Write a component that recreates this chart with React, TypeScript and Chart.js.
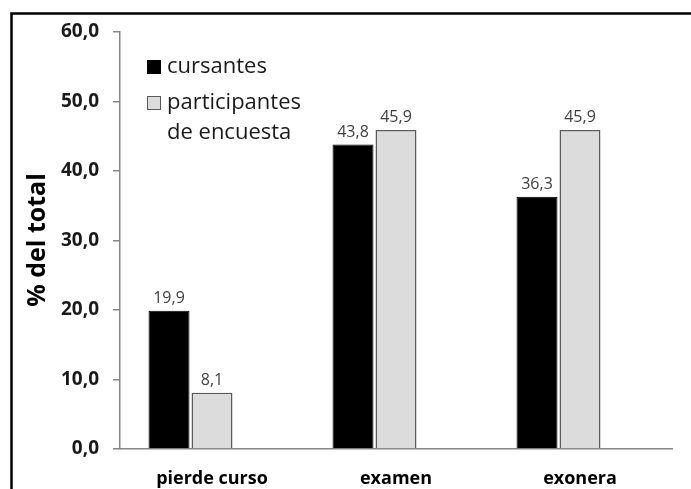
import React, { useEffect, useRef } from "react";
import { Chart, registerables } from "chart.js";

Chart.register(...registerables);

const categories = ["pierde curso", "examen", "exonera"];
const cursantes = [19.9, 43.8, 36.3];
const participantes = [8.1, 45.9, 45.9];
const emptySeries = [null, null, null];
const seriesLabels = ["cursantes", ["participantes", "de encuesta"]];
const yTitle = "% del total";
const yMin = 0;
const yMax = 60;
const yStep = 10;

const FONT = "'Open Sans', sans-serif";

const fmt = (v: number) => v.toFixed(1).replace(".", ",");

const framePlugin = {
  id: "frame",
  beforeDraw(chart: any) {
    const ctx = chart.ctx;
    ctx.save();
    ctx.fillStyle = "#ffffff";
    ctx.fillRect(0, 0, chart.width, chart.height);
    ctx.strokeStyle = "#000000";
    ctx.lineWidth = 2.5;
    ctx.beginPath();
    ctx.moveTo(11.5, chart.height + 10);
    ctx.lineTo(11.5, 13.5);
    ctx.lineTo(chart.width + 10, 13.5);
    ctx.stroke();
    ctx.restore();
  },
};

const extrasPlugin = {
  id: "extras",
  afterDatasetsDraw(chart: any) {
    const ctx = chart.ctx;
    ctx.save();
    // data labels
    ctx.font = `16px ${FONT}`;
    ctx.fillStyle = "#404040";
    ctx.textAlign = "center";
    ctx.textBaseline = "alphabetic";
    [0, 1].forEach((di) => {
      const meta = chart.getDatasetMeta(di);
      const data = chart.data.datasets[di].data;
      meta.data.forEach((el: any, i: number) => {
        const v = data[i];
        if (v == null) return;
        ctx.fillText(fmt(v), el.x, el.y - 8);
      });
    });
    // y title
    ctx.save();
    ctx.translate(38, 240);
    ctx.rotate(-Math.PI / 2);
    ctx.font = `bold 25px ${FONT}`;
    ctx.fillStyle = "#000000";
    ctx.textAlign = "center";
    ctx.textBaseline = "middle";
    ctx.fillText(yTitle, 0, 0);
    ctx.restore();
    // legend
    const items = [
      { y: 67, ds: chart.data.datasets[0] },
      { y: 103, ds: chart.data.datasets[1] },
    ];
    ctx.font = `22px ${FONT}`;
    ctx.textAlign = "left";
    ctx.textBaseline = "middle";
    items.forEach((it) => {
      ctx.fillStyle = it.ds.backgroundColor;
      ctx.fillRect(147, it.y - 7, 14, 14);
      ctx.strokeStyle = it.ds.borderColor;
      ctx.lineWidth = 1;
      ctx.strokeRect(147.5, it.y - 6.5, 13, 13);
      ctx.fillStyle = "#1a1a1a";
      const lbl = it.ds.label;
      const lines = Array.isArray(lbl) ? lbl : [lbl];
      lines.forEach((t: string, k: number) => {
        ctx.fillText(t, 167, it.y + k * 30);
      });
    });
    ctx.restore();
  },
};

export default function App() {
  const ref = useRef<HTMLCanvasElement>(null);
  useEffect(() => {
    if (!ref.current) return;
    const chart = new Chart(ref.current, {
      type: "bar",
      data: {
        labels: categories,
        datasets: [
          {
            label: seriesLabels[0] as any,
            data: cursantes,
            backgroundColor: "#000000",
            borderColor: "#000000",
            borderWidth: 1,
          },
          {
            label: seriesLabels[1] as any,
            data: participantes,
            backgroundColor: "#dcdcdc",
            borderColor: "#595959",
            borderWidth: 1.5,
          },
          {
            label: "",
            data: emptySeries as any,
            backgroundColor: "rgba(0,0,0,0)",
          },
        ],
      },
      options: {
        animation: false,
        responsive: false,
        maintainAspectRatio: false,
        devicePixelRatio: 1,
        layout: { padding: { top: 32, right: 19, left: 0, bottom: 0 } },
        plugins: {
          legend: { display: false },
          tooltip: { enabled: false },
        },
        datasets: {
          bar: { categoryPercentage: 0.701, barPercentage: 0.953 },
        },
        scales: {
          x: {
            grid: { display: false, drawTicks: false },
            border: { display: true, color: "#868686", width: 1.5 },
            ticks: {
              padding: 19,
              color: "#000000",
              font: { family: FONT, size: 18, weight: "bold" },
            },
            afterFit(scale: any) {
              scale.height = 40;
            },
          },
          y: {
            min: yMin,
            max: yMax,
            grid: {
              drawOnChartArea: false,
              drawTicks: true,
              tickLength: 7,
              color: "#868686",
              lineWidth: 1.5,
            },
            border: { display: true, color: "#868686", width: 1.5 },
            ticks: {
              stepSize: yStep,
              padding: 14,
              color: "#1a1a1a",
              font: { family: FONT, size: 19, weight: "bold" },
              callback: (v: any) => fmt(Number(v)),
            },
            afterFit(scale: any) {
              scale.width = 120;
            },
          },
        },
      },
      plugins: [framePlugin, extrasPlugin],
    });
    return () => chart.destroy();
  }, []);
  return (
    <canvas
      ref={ref}
      width={691}
      height={489}
      style={{ position: "fixed", left: 0, top: 0, width: 691, height: 489 }}
    />
  );
}
